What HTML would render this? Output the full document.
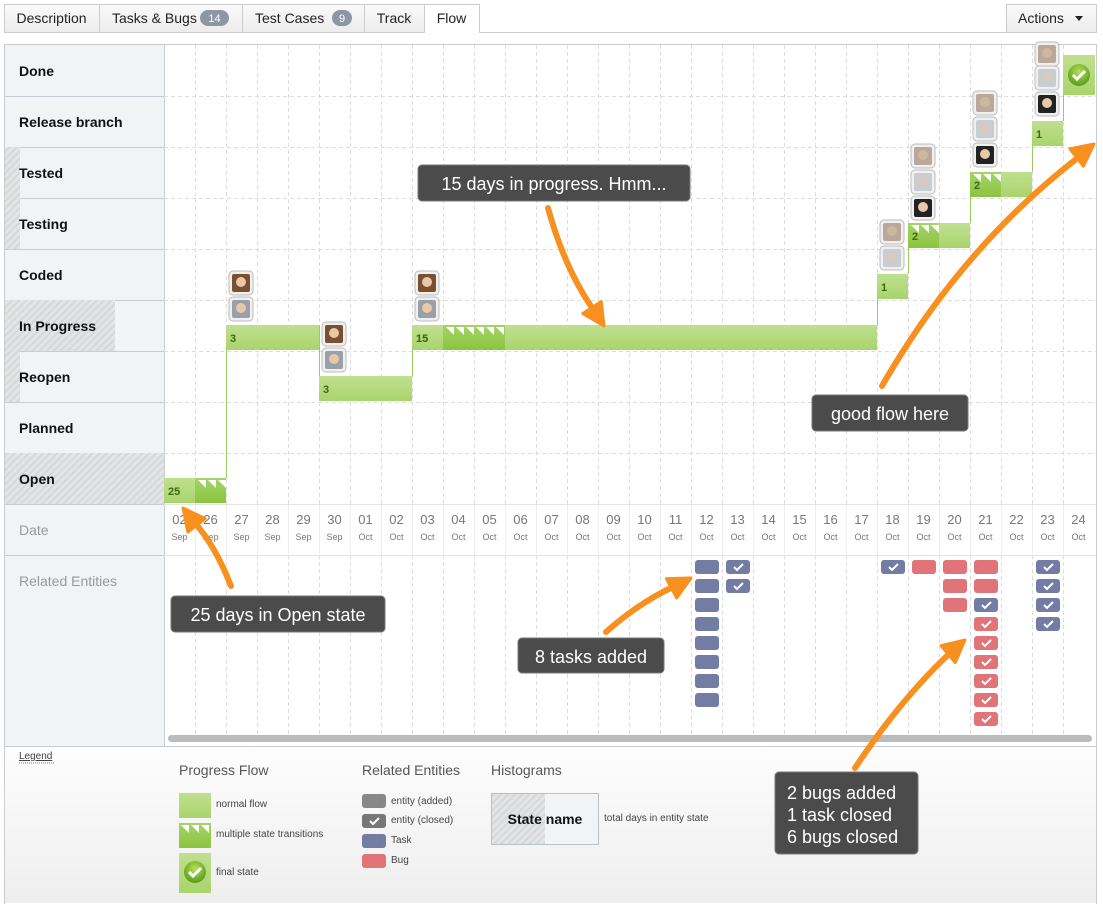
<!DOCTYPE html>
<html><head><meta charset="utf-8">
<style>
body{margin:0;width:1103px;height:904px;overflow:hidden;background:#fff;font-family:"Liberation Sans",Arial,sans-serif;}
svg{position:absolute;left:0;top:0}
</style></head>
<body>
<svg id="s" width="1103" height="904" xmlns="http://www.w3.org/2000/svg" font-family="Liberation Sans, Arial, sans-serif">
<defs>
<pattern id="hatch" width="5" height="5" patternUnits="userSpaceOnUse" patternTransform="rotate(45)">
<rect width="5" height="5" fill="#e3e4e6"/><rect width="2" height="5" fill="#d6d7d9"/></pattern>
<linearGradient id="tab" x1="0" y1="0" x2="0" y2="1"><stop offset="0" stop-color="#fafafa"/><stop offset="1" stop-color="#ececec"/></linearGradient>
<linearGradient id="leg" x1="0" y1="0" x2="0" y2="1"><stop offset="0" stop-color="#fdfdfd"/><stop offset="1" stop-color="#eeeeee"/></linearGradient>
<linearGradient id="bar" x1="0" y1="0" x2="0" y2="1"><stop offset="0" stop-color="#bfe08f"/><stop offset="1" stop-color="#a9d46c"/></linearGradient>
<linearGradient id="bar2" x1="0" y1="0" x2="0" y2="1"><stop offset="0" stop-color="#a5d468"/><stop offset="1" stop-color="#8cc43f"/></linearGradient>
<radialGradient id="chk" cx="0.5" cy="0.35" r="0.6"><stop offset="0" stop-color="#b6e05a"/><stop offset="1" stop-color="#5fa01e"/></radialGradient>
</defs>
<g id="g"></g>
</svg>
<script>
var g=document.getElementById('g'),h='';
function R(x,y,w,hh,f,extra){h+='<rect x="'+x+'" y="'+y+'" width="'+w+'" height="'+hh+'" fill="'+f+'" '+(extra||'')+'/>';}
function T(x,y,t,extra){h+='<text x="'+x+'" y="'+y+'" '+extra+'>'+t+'</text>';}
function L(x1,y1,x2,y2,st,extra){h+='<line x1="'+x1+'" y1="'+y1+'" x2="'+x2+'" y2="'+y2+'" stroke="'+st+'" '+(extra||'')+'/>';}
// tabs
L(4,32.5,1096,32.5,'#ccc');
var tabs=[['Description',4,99],['Tasks & Bugs',99,242,'14'],['Test Cases',242,364,'9'],['Track',364,424],['Flow',424,479]];
tabs.forEach(function(t,i){var act=i==4;R(t[1]+.5,4.5,t[2]-t[1],28,act?'#fff':'url(#tab)','stroke="#ccc"');
 if(act)R(t[1]+1,32,t[2]-t[1]-1,2,'#fff');
 var tx=t[3]?t[1]+13:(t[1]+t[2])/2;
 T(tx,23,t[0].replace('&','&amp;'),'font-size="14" fill="#222" '+(t[3]?'':'text-anchor="middle"'));
 if(t[3]){var bx=t[2]-42+(t[3]=='9'?10:0),bw=t[3]=='9'?20:29;R(bx,10,bw,16,'#8f96a3','rx="8"');T(bx+bw/2,22,t[3],'font-size="11" fill="#fff" text-anchor="middle"');}
});
R(1006.5,4.5,90,28,'url(#tab)','stroke="#ccc"');T(1018,23,'Actions','font-size="14" fill="#222"');
h+='<path d="M1075 16h8l-4 5z" fill="#222"/>';
// frame
R(4.5,44.5,1092,702,'#fff','stroke="#c8ccd2"');
R(5,45,159,701,'#f2f3f5');
var labels=['Done','Release branch','Tested','Testing','Coded','In Progress','Reopen','Planned','Open','Date','Related Entities'];
var hw={2:15,3:15,5:110,6:15,8:160};
for(var i=0;i<11;i++){var y=45+i*51;var hh=i==10?190:51;
 if(hw[i])R(5,y,hw[i],51,'url(#hatch)');
 if(i<10)L(4,y+51.5,164,y+51.5,'#c8ccd2');
 T(19,y+31,labels[i],i<9?'font-size="14" font-weight="bold" fill="#111"':'font-size="14" fill="#999"');}
L(164.5,45,164.5,746,'#c8ccd2');
// grid
for(var c=1;c<30;c++){var x=164.5+c*31;L(x,45,x,504,'#ddd','stroke-dasharray="4,3"');L(x,504,x,555,'#eee');L(x,555,x,735,'#ddd','stroke-dasharray="4,3"');}
for(var r=1;r<9;r++){L(164,45.5+r*51,1096,45.5+r*51,'#ddd','stroke-dasharray="4,3"');}
L(164,504.5,1096,504.5,'#e4e4e4');L(164,555.5,1096,555.5,'#e4e4e4');
// dates
var days=['02','26','27','28','29','30'],mon=['Sep','Sep','Sep','Sep','Sep','Sep'];
for(var d=1;d<=24;d++){days.push((d<10?'0':'')+d);mon.push('Oct');}
days.forEach(function(dd,c){var x=164+c*31+15.5;T(x,524,dd,'font-size="13" fill="#777" text-anchor="middle"');T(x,540,mon[c],'font-size="9" fill="#777" text-anchor="middle"');});
// scrollbar
R(168,735,924,7,'#bbb','rx="3.5"');
// bars
function X(c){return 164+c*31;}
function bar(c0,c1,y,lab,marks,mc){R(X(c0),y,X(c1)-X(c0),25,'url(#bar)');
 if(marks){R(X(mc[0]),y,X(mc[1])-X(mc[0]),25,'url(#bar2)');for(var k=0;k<marks;k++){var mx=X(mc[0])+3+k*10;h+='<path d="M'+mx+' '+(y+2)+'h8v8z" fill="#fff"/>';}}
 if(lab)T(X(c0)+4,y+17,lab,'font-size="11" font-weight="bold" fill="#3d6b12"');}
function vl(c,y1,y2){L(X(c)+.5,y1,X(c)+.5,y2,'#9acd5a');}
bar(0,2,478,'25',3,[1,2]);vl(2,325,478);
bar(2,5,325,'3');vl(5,325,376);
bar(5,8,376,'3');vl(8,325,376);
bar(8,23,325,'15',6,[9,11]);
h+='<text x="'+(X(8)+4)+'" y="342" font-size="11" font-weight="bold" fill="#3d6b12">15</text>';
vl(23,274,325);bar(23,24,274,'1');
vl(24,223,274);bar(24,26,223,'',3,[24,25]);T(X(24)+4,240,'2','font-size="11" font-weight="bold" fill="#3d6b12"');
vl(26,172,223);bar(26,28,172,'',3,[26,27]);T(X(26)+4,189,'2','font-size="11" font-weight="bold" fill="#3d6b12"');
vl(28,121,172);bar(28,29,121,'1');
vl(29,70,121);R(X(29),55,32,40,'url(#bar)');
h+='<circle cx="'+(X(29)+16)+'" cy="75" r="11" fill="url(#chk)"/><path d="M'+(X(29)+10)+' 75l4 4 8-8" stroke="#fff" stroke-width="3" fill="none"/>';
// avatars
function av(c,y,col,faded){var x=X(c)+3;R(x,y,24,24,'#f0f0f0','rx="4" stroke="#bbb"');R(x+3,y+3,18,18,col,'rx="2"'+(faded?' opacity="0.45"':''));h+='<circle cx="'+(x+12)+'" cy="'+(y+11)+'" r="5" fill="#e8c8a8"'+(faded?' opacity="0.45"':'')+'/>';}
av(2,271,'#7a5030');av(2,297,'#9aa0a8');
av(5,322,'#7a5030');av(5,348,'#9aa0a8');
av(8,271,'#7a5030');av(8,297,'#9aa0a8');
av(23,220,'#7a5030',1);av(23,246,'#9aa0a8',1);
av(24,144,'#7a5030',1);av(24,170,'#9aa0a8',1);av(24,196,'#222');
av(26,91,'#7a5030',1);av(26,117,'#9aa0a8',1);av(26,143,'#222');
av(28,42,'#7a5030',1);av(28,66,'#9aa0a8',1);av(28,92,'#222');
// entities
var TK='#737ca3',BG='#e07479';
function ent(c,k,col,chk){var x=X(c)+4,y=560+k*19;R(x,y,24,14,col,'rx="3"');if(chk)h+='<path d="M'+(x+8)+' '+(y+7)+'l3 3 6-6" stroke="#fff" stroke-width="2" fill="none"/>';}
for(var k=0;k<8;k++)ent(17,k,TK);
ent(18,0,TK,1);ent(18,1,TK,1);
ent(23,0,TK,1);ent(24,0,BG);
ent(25,0,BG);ent(25,1,BG);ent(25,2,BG);
ent(26,0,BG);ent(26,1,BG);ent(26,2,TK,1);for(k=3;k<9;k++)ent(26,k,BG,1);
for(k=0;k<4;k++)ent(28,k,TK,1);
// legend
R(5,747,1091,156,'url(#leg)');L(4.5,746,4.5,904,'#ccc');L(1096.5,746,1096.5,904,'#ccc');
T(19,759,'Legend','font-size="10" fill="#444" text-decoration="underline"');
L(19,763,55,763,'#777','stroke-dasharray="1,1"');
T(179,775,'Progress Flow','font-size="14" fill="#555"');
T(362,775,'Related Entities','font-size="14" fill="#555"');
T(491,775,'Histograms','font-size="14" fill="#555"');
R(179,793,32,25,'url(#bar)');T(216,807,'normal flow','font-size="10" fill="#444"');
R(179,823,32,25,'url(#bar2)');for(k=0;k<3;k++)h+='<path d="M'+(181+k*10)+' 825h8v8z" fill="#fff"/>';T(216,837,'multiple state transitions','font-size="10" fill="#444"');
R(179,853,32,40,'url(#bar)');h+='<circle cx="195" cy="872" r="11" fill="url(#chk)"/><path d="M189 872l4 4 8-8" stroke="#fff" stroke-width="3" fill="none"/>';T(216,875,'final state','font-size="10" fill="#444"');
R(362,794,24,14,'#888','rx="3"');T(391,804,'entity (added)','font-size="10" fill="#444"');
R(362,814,24,14,'#777','rx="3"');h+='<path d="M370 821l3 3 6-6" stroke="#fff" stroke-width="2" fill="none"/>';T(391,823,'entity (closed)','font-size="10" fill="#444"');
R(362,834,24,14,TK,'rx="3"');T(391,843,'Task','font-size="10" fill="#444"');
R(362,854,24,14,BG,'rx="3"');T(391,863,'Bug','font-size="10" fill="#444"');
R(491.5,793.5,107,51,'#f2f3f5','stroke="#b8c0c8"');R(492,794,53,50,'url(#hatch)');
T(545,824,'State name','font-size="14" font-weight="bold" fill="#111" text-anchor="middle"');
T(604,821,'total days in entity state','font-size="10" fill="#444"');
// arrows
var OR='#f7901e';
function arr(d,hx,hy,ang){h+='<path d="'+d+'" stroke="'+OR+'" stroke-width="6" fill="none" stroke-linecap="round"/>';
 h+='<g transform="translate('+hx+','+hy+') rotate('+ang+')"><path d="M0 0L-22 -11L-22 11Z" fill="'+OR+'" stroke="'+OR+'" stroke-width="3" stroke-linejoin="round"/></g>';}
arr('M548 208Q565 270 595 312',604,326,57);
arr('M882 386Q960 250 1075 160',1094,144,-38);
arr('M231 586Q215 545 194 522',183,508,-128);
arr('M606 632Q640 602 675 586',691,578,-28);
arr('M855 768Q900 700 950 653',965,640,-40);
// callouts
function box(x,y,w,hh,lines){R(x,y,w,hh,'#4b4b4b','rx="4" stroke="#777"');lines.forEach(function(t,i){T(x+w/2,y+25+i*22,t,'font-size="18" fill="#fff" text-anchor="middle"');});}
box(418,165,272,36,['15 days in progress. Hmm...']);
box(812,395,156,36,['good flow here']);
box(171,596,214,36,['25 days in Open state']);
box(518,638,146,35,['8 tasks added']);
R(775,772,143,82,'#4b4b4b','rx="4" stroke="#777"');
['2 bugs added','1 task closed','6 bugs closed'].forEach(function(t,i){T(787,799+i*22,t,'font-size="18" fill="#fff"');});
g.innerHTML=h;
</script>
</body></html>
